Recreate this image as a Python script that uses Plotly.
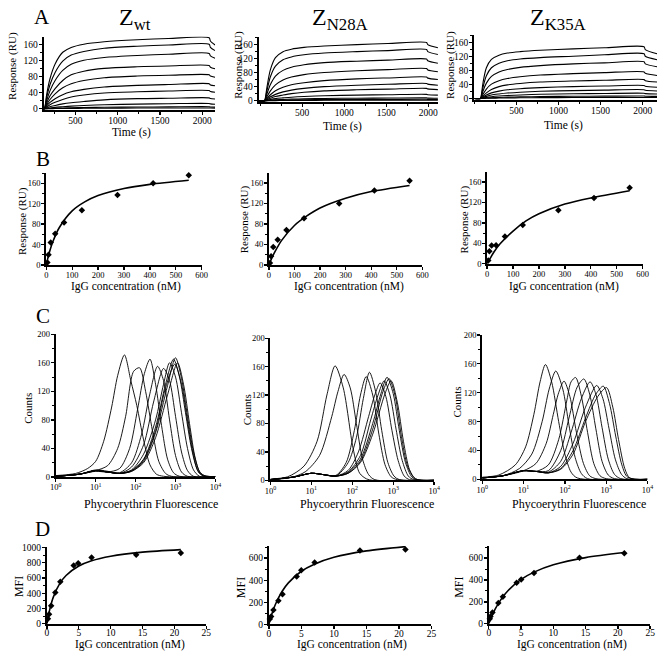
import plotly.graph_objects as go
import numpy as np

W, H = 664, 657
FONT = '"Liberation Serif", "Times New Roman", Times, serif'

# ---------------- DATA ----------------
# Panel A: SPR sensorgrams (time in s, response in RU)
A_wt_time = [124, 130, 140, 160, 200, 260, 350, 450, 600, 840, 1230, 1600, 2080, 2095, 2150]
A_wt_curves = [
    [0, 0, 5, 35, 75, 111, 140, 152, 160, 166, 171, 174, 176, 168, 158],
    [0, 0, 4, 28, 60, 90, 118, 133, 142, 150, 155, 158, 160, 152, 144],
    [0, 0, 3, 20, 45, 70, 95, 110, 120, 127, 132, 135, 137, 131, 125],
    [0, 0, 2, 14, 32, 50, 70, 84, 93, 100, 104, 106, 107, 103, 99],
    [0, 0, 1.5, 10, 23, 37, 52, 62, 70, 77, 81, 83, 84, 81, 78],
    [0, 0, 1, 7, 16, 25, 35, 42, 48, 54, 58, 60, 62, 59, 57],
    [0, 0, 0.7, 4, 10, 16, 23, 29, 34, 39, 42, 44, 45, 43, 41],
    [0, 0, 0.4, 2, 5, 8, 12, 15, 18, 22, 25, 26, 27, 25.5, 24],
    [0, 0, 0.2, 1, 2, 3.5, 5, 6.5, 8, 10, 11.5, 12.5, 13, 12, 11],
    [0, 0, 0, 0.3, 0.7, 1.2, 1.8, 2.4, 3, 3.7, 4.3, 4.7, 5, 4.5, 4],
    [0, 0, 0, 0.1, 0.3, 0.5, 0.7, 0.9, 1.1, 1.4, 1.7, 1.9, 2, 1.8, 1.6],
]
A_n28_time = [-19, 51, 61, 81, 121, 181, 271, 371, 521, 761, 1151, 1521, 1980, 1995, 2115]
A_n28_curves = [
    [0, 0, 8, 40, 88, 122, 139, 146, 151, 155, 159, 162, 165, 159, 150],
    [0, 0, 6, 30, 68, 98, 116, 124, 130, 135, 139, 142, 145, 139, 131],
    [0, 0, 4, 20, 46, 70, 86, 95, 102, 108, 112, 115, 118, 113, 106],
    [0, 0, 2.5, 12, 28, 45, 59, 67, 74, 80, 85, 88, 91, 87, 82],
    [0, 0, 1.5, 7, 17, 28, 38, 45, 51, 57, 62, 64.5, 67, 64, 60],
    [0, 0, 1, 4.5, 11, 18, 25, 30, 35, 40, 44, 46.5, 49, 47, 44],
    [0, 0, 0.6, 3, 7, 12, 16, 20, 24, 28, 31, 33, 35, 33.5, 31.5],
    [0, 0, 0.3, 1.5, 3.5, 6, 8, 10, 12, 14, 16, 17, 18, 17, 16],
    [0, 0, 0.1, 0.6, 1.5, 2.5, 3.5, 4.5, 5.5, 6.5, 7.2, 7.6, 8, 7.5, 7],
    [0, 0, 0, 0.3, 0.7, 1.2, 1.7, 2.2, 2.7, 3.2, 3.6, 3.8, 4, 3.7, 3.4],
    [0, 0, 0, 0.1, 0.2, 0.4, 0.6, 0.8, 1.0, 1.2, 1.35, 1.45, 1.5, 1.4, 1.3],
]
A_k35_time = [-2, 74, 84, 104, 144, 204, 294, 394, 544, 784, 1174, 1544, 2016, 2031, 2170]
A_k35_curves = [
    [0, 0, 10, 45, 88, 112, 124, 130, 134, 138, 142, 145, 148, 140, 128],
    [0, 0, 7, 32, 65, 88, 101, 108, 113, 117, 121, 125, 128, 121, 111],
    [0, 0, 4.5, 21, 44, 63, 76, 83, 89, 94, 99, 102, 105, 99, 91],
    [0, 0, 2.5, 12, 27, 41, 51, 57, 62, 67, 71, 74, 76, 72, 66],
    [0, 0, 1.5, 7, 16, 26, 34, 39, 43, 47, 50, 52, 54, 51, 47],
    [0, 0, 1, 4, 10, 16, 21, 25, 28, 31, 34, 35.5, 37, 35, 32],
    [0, 0, 0.5, 2.5, 6, 10, 13, 15.5, 18, 20.5, 22.5, 24, 25, 23.5, 21.5],
    [0, 0, 0.3, 1.3, 3, 5, 7, 8.5, 10, 12, 13.5, 14.3, 15, 14, 13],
    [0, 0, 0.1, 0.5, 1.2, 2, 3, 3.8, 4.6, 5.5, 6.2, 6.6, 7, 6.5, 6],
    [0, 0, 0, 0.2, 0.5, 0.9, 1.3, 1.6, 2, 2.4, 2.7, 2.85, 3, 2.8, 2.6],
]

# Panel B: equilibrium response vs IgG concentration (nM)
B_conc = [4.3, 8.6, 17.2, 34.4, 68.8, 137.5, 275, 412.5, 550]
B_wt_resp = [5, 20, 44, 61, 83, 107, 137, 160, 176]
B_n28_resp = [4, 17, 35, 49, 68, 91, 120, 145, 164]
B_k35_resp = [6.5, 24.5, 35.5, 36, 53.5, 76, 105, 129, 149]
B_fit_conc = [0, 5, 10, 25, 50, 100, 150, 200, 300, 400, 550]
B_wt_fit = [0, 11, 21, 45, 73, 106, 124, 136, 150, 158, 166]
B_n28_fit = [0, 6, 12, 27, 48, 77, 96, 111, 130, 143, 155]
B_k35_fit = [0, 5, 9, 22, 39, 64, 84, 98, 117, 129, 143]

# Panel C: flow cytometry histograms (log10 fluorescence, counts)
C_wt_x = [
    [0, 0.5, 0.8, 1.0, 1.2, 1.4, 1.55, 1.72, 1.88, 2.03, 2.2, 2.36, 2.52, 2.7, 4.0],
    [0, 0.6, 1.0, 1.3, 1.55, 1.75, 1.95, 2.1, 2.25, 2.42, 2.58, 2.75, 2.9, 4.0],
    [0, 0.6, 1.0, 1.3, 1.6, 1.85, 2.05, 2.22, 2.36, 2.5, 2.65, 2.8, 2.95, 3.1, 4.0],
    [0, 0.6, 1.0, 1.3, 1.6, 1.9, 2.15, 2.35, 2.55, 2.7, 2.85, 3.0, 3.15, 3.3, 4.0],
    [0, 0.6, 1.0, 1.3, 1.6, 1.9, 2.2, 2.45, 2.7, 2.85, 3.0, 3.15, 3.3, 3.45, 4.0],
    [0, 0.6, 1.0, 1.3, 1.6, 1.9, 2.2, 2.5, 2.7, 2.85, 3.0, 3.15, 3.3, 3.45, 3.6, 4.0],
    [0, 0.6, 1.0, 1.3, 1.6, 1.9, 2.2, 2.5, 2.75, 2.95, 3.1, 3.25, 3.4, 3.55, 3.7, 4.0],
    [0, 0.6, 1.0, 1.3, 1.6, 1.9, 2.2, 2.5, 2.8, 3.0, 3.15, 3.3, 3.45, 3.6, 3.75, 4.0],
    [0, 0.6, 1.0, 1.3, 1.6, 1.9, 2.2, 2.5, 2.8, 3.05, 3.2, 3.35, 3.5, 3.65, 4.0],
    [0, 0.6, 1.0, 1.3, 1.6, 1.9, 2.2, 2.5, 2.75, 2.98, 3.15, 3.3, 3.45, 3.6, 4.0],
]
C_wt_y = [
    [2, 5, 12, 22, 50, 98, 142, 171, 135, 100, 52, 17, 4, 1, 0],
    [1, 4, 9, 16, 40, 85, 148, 153, 120, 65, 22, 5, 1, 0],
    [1, 4, 8, 7, 12, 40, 95, 145, 165, 130, 72, 25, 6, 1, 0],
    [1, 4, 9, 7, 6, 20, 60, 115, 155, 135, 80, 30, 7, 1, 0],
    [1, 4, 9, 7, 5, 14, 45, 105, 152, 135, 85, 35, 9, 1, 0],
    [1, 4, 9, 7, 5, 10, 32, 80, 130, 160, 140, 90, 40, 10, 1, 0],
    [1, 4, 9, 7, 5, 9, 25, 70, 130, 165, 140, 90, 40, 10, 1, 0],
    [1, 4, 9, 7, 5, 8, 22, 62, 128, 167, 138, 85, 35, 8, 1, 0],
    [1, 4, 9, 7, 5, 8, 20, 55, 115, 160, 130, 75, 25, 3, 0],
    [1, 4, 10, 8, 5, 9, 24, 65, 125, 158, 130, 78, 30, 5, 0],
]
C_n28_x = [
    [0, 0.42, 0.82, 1.14, 1.38, 1.58, 1.78, 2.02, 2.18, 2.35, 2.5, 4.0],
    [0, 0.5, 0.85, 1.2, 1.5, 1.65, 1.8, 1.95, 2.1, 2.25, 2.4, 2.55, 4.0],
    [0, 0.6, 1.0, 1.3, 1.6, 1.85, 2.05, 2.2, 2.34, 2.5, 2.65, 2.8, 2.95, 3.1, 4.0],
    [0, 0.6, 1.0, 1.3, 1.6, 1.9, 2.1, 2.27, 2.42, 2.57, 2.72, 2.87, 3.02, 3.15, 4.0],
    [0, 0.6, 1.0, 1.3, 1.6, 1.9, 2.15, 2.4, 2.55, 2.68, 2.82, 2.97, 3.12, 3.27, 3.4, 4.0],
    [0, 0.6, 1.0, 1.3, 1.6, 1.9, 2.2, 2.45, 2.63, 2.78, 2.92, 3.07, 3.22, 3.37, 3.5, 4.0],
    [0, 0.6, 1.0, 1.3, 1.6, 1.9, 2.2, 2.5, 2.7, 2.85, 3.0, 3.15, 3.3, 3.45, 3.55, 4.0],
    [0, 0.6, 1.0, 1.3, 1.6, 1.9, 2.2, 2.5, 2.75, 2.9, 3.05, 3.2, 3.35, 3.5, 3.6, 4.0],
    [0, 0.6, 1.0, 1.3, 1.6, 1.9, 2.2, 2.5, 2.8, 2.95, 3.1, 3.25, 3.4, 3.55, 4.0],
]
C_n28_y = [
    [2, 5, 20, 55, 120, 161, 130, 45, 10, 2, 0, 0],
    [1, 4, 12, 35, 90, 125, 149, 130, 80, 30, 8, 1, 0],
    [1, 5, 10, 8, 7, 25, 70, 120, 146, 120, 65, 22, 5, 1, 0],
    [1, 5, 10, 8, 6, 25, 60, 115, 152, 125, 70, 25, 6, 1, 0],
    [1, 5, 10, 8, 6, 14, 40, 90, 120, 137, 118, 70, 28, 6, 1, 0],
    [1, 5, 10, 8, 6, 12, 35, 85, 120, 140, 120, 72, 28, 6, 1, 0],
    [1, 5, 10, 8, 6, 11, 30, 80, 122, 145, 122, 70, 25, 5, 1, 0],
    [1, 5, 10, 8, 6, 10, 27, 72, 125, 143, 118, 62, 20, 4, 1, 0],
    [1, 5, 10, 8, 6, 10, 25, 65, 122, 140, 110, 55, 15, 2, 0],
]
C_k35_x = [
    [0, 0.4, 0.8, 1.05, 1.25, 1.4, 1.53, 1.68, 1.85, 2.0, 2.15, 2.3, 4.0],
    [0, 0.5, 0.9, 1.2, 1.45, 1.62, 1.78, 1.95, 2.1, 2.25, 2.4, 2.55, 4.0],
    [0, 0.5, 1.0, 1.3, 1.55, 1.72, 1.85, 1.98, 2.12, 2.28, 2.45, 2.6, 2.75, 4.0],
    [0, 0.5, 1.0, 1.3, 1.6, 1.85, 2.05, 2.15, 2.26, 2.4, 2.55, 2.7, 2.85, 3.0, 4.0],
    [0, 0.5, 1.0, 1.3, 1.6, 1.9, 2.1, 2.3, 2.46, 2.6, 2.75, 2.9, 3.05, 3.2, 4.0],
    [0, 0.5, 1.0, 1.3, 1.6, 1.9, 2.15, 2.4, 2.61, 2.75, 2.9, 3.05, 3.2, 3.35, 4.0],
    [0, 0.5, 1.0, 1.3, 1.6, 1.9, 2.2, 2.5, 2.77, 2.92, 3.07, 3.22, 3.37, 3.5, 4.0],
    [0, 0.5, 1.0, 1.3, 1.6, 1.9, 2.2, 2.5, 2.75, 2.93, 3.08, 3.23, 3.38, 3.52, 4.0],
    [0, 0.5, 1.0, 1.3, 1.6, 1.9, 2.2, 2.5, 2.8, 3.01, 3.16, 3.3, 3.45, 3.57, 4.0],
]
C_k35_y = [
    [3, 6, 20, 45, 90, 135, 159, 135, 80, 35, 10, 2, 0],
    [2, 5, 15, 35, 80, 125, 150, 125, 75, 30, 8, 1, 0],
    [2, 5, 12, 22, 50, 90, 120, 136, 115, 65, 22, 5, 1, 0],
    [2, 5, 12, 11, 20, 55, 110, 135, 141, 115, 65, 22, 5, 1, 0],
    [2, 5, 12, 11, 12, 40, 85, 128, 139, 118, 70, 25, 6, 1, 0],
    [2, 5, 12, 11, 10, 25, 65, 112, 135, 118, 72, 28, 7, 1, 0],
    [2, 5, 12, 11, 9, 18, 50, 100, 130, 112, 70, 28, 7, 1, 0],
    [2, 5, 12, 11, 9, 15, 40, 85, 118, 129, 105, 60, 20, 3, 0],
    [2, 5, 12, 11, 9, 14, 35, 80, 115, 127, 100, 55, 15, 2, 0],
]

# Panel D: MFI vs IgG concentration (nM)
D_wt_conc = [0.16, 0.33, 0.66, 1.31, 2.1, 4.2, 4.9, 7.0, 14.0, 21.0]
D_wt_mfi = [65, 125, 235, 410, 550, 765, 795, 870, 905, 930]
D_n28_conc = [0.15, 0.35, 0.7, 1.46, 2.1, 4.28, 4.98, 7.04, 14.0, 21.0]
D_n28_mfi = [50, 71, 131, 214, 273, 434, 490, 561, 668, 677]
D_k35_conc = [0.15, 0.25, 0.56, 1.47, 2.18, 4.31, 5.02, 7.0, 14.05, 21.0]
D_k35_mfi = [45, 66, 102, 189, 246, 375, 405, 465, 603, 645]
D_fit_conc = [0, 0.25, 0.5, 1, 2, 3, 5, 7, 10, 15, 21]
D_wt_fit = [0, 115, 209, 350, 527, 634, 758, 827, 887, 941, 974]
D_n28_fit = [0, 54, 101, 180, 296, 376, 481, 545, 607, 665, 704]
D_k35_fit = [0, 39, 74, 136, 232, 304, 405, 472, 539, 605, 651]

# Tick labels
A_yticks = [0, 40, 80, 120, 160]
A_xticks = [500, 1000, 1500, 2000]
B_yticks = [0, 40, 80, 120, 160]
B_xticks = [0, 100, 200, 300, 400, 500, 600]
C_yticks = [0, 40, 80, 120, 160, 200]
C_xticks = [1, 10, 100, 1000, 10000]
C_xticktext = ["10<sup>0</sup>", "10<sup>1</sup>", "10<sup>2</sup>", "10<sup>3</sup>", "10<sup>4</sup>"]
D_wt_yticks = [0, 200, 400, 600, 800, 1000]
D_yticks = [0, 200, 400, 600]
D_xticks = [0, 5, 10, 15, 20, 25]

# ---------------- FIGURE ----------------
fig = go.Figure()


def xdom(a, b):
    return [a / W, b / W]


def ydom(top, bottom):
    return [1 - bottom / H, 1 - top / H]


def axis(dom, rng, tickvals, size, anchor, typ="linear", ticktext=None, minor_dtick=None, standoff=0):
    d = dict(domain=dom, range=rng, type=typ, anchor=anchor,
             showline=True, linecolor="black", linewidth=2,
             ticks="outside", ticklen=3, tickwidth=1.3, tickcolor="black",
             showgrid=False, zeroline=False, fixedrange=True,
             tickfont=dict(family=FONT, size=size, color="black"),
             tickmode="array", tickvals=tickvals, ticklabelstandoff=standoff)
    if ticktext is not None:
        d["ticktext"] = ticktext
    if minor_dtick is not None:
        d["minor"] = dict(ticks="outside", ticklen=2, tickwidth=1, tickcolor="black",
                          dtick=minor_dtick, tick0=0, showgrid=False)
    return d


# axis specs: (x px range, y px (top,bottom), xrange, yrange, xticks, yticks, xtype, xticktext, fsize, xminor, yminor, xstandoff)
specs = [
    ((38.3, 213), (32, 107), [124, 2151], [-4, 179], A_xticks, A_yticks, "linear", None, 9.5, 250, 20, -3),
    ((257.3, 440), (32.3, 99), [-19, 2117], [-5, 181], A_xticks, A_yticks, "linear", None, 9.5, 250, 20, -3),
    ((476.7, 663), (30.7, 96.7), [-2, 2170], [-5, 181], A_xticks, A_yticks, "linear", None, 9.5, 250, 20, -3),
    ((41, 199.3), (170.7, 264), [0, 600], [0, 180], B_xticks, B_yticks, "linear", None, 8.5, None, 20, -2),
    ((267.7, 424), (170.7, 264), [0, 600], [0, 179], B_xticks, B_yticks, "linear", None, 8.5, None, 20, -2),
    ((490, 648.3), (170, 262.7), [0, 600], [0, 179], B_xticks, B_yticks, "linear", None, 8.5, None, 20, -2),
    ((50.7, 213.3), (334.3, 479.3), [0, 4], [0, 200], C_xticks, C_yticks, "log", C_xticktext, 8.5, None, 20, -2),
    ((269.3, 436), (338.3, 482.7), [0, 4], [0, 200], C_xticks, C_yticks, "log", C_xticktext, 8.5, None, 20, -2),
    ((485, 653.3), (335, 481.7), [0, 4], [0, 200], C_xticks, C_yticks, "log", C_xticktext, 8.5, None, 20, -2),
    ((41.7, 204), (550, 628.3), [0, 25], [0, 1013], D_xticks, D_wt_yticks, "linear", None, 9.5, None, 100, -4),
    ((267.7, 433.3), (549.3, 629), [0, 25], [0, 710], D_xticks, D_yticks, "linear", None, 9.5, None, 100, -4),
    ((491.7, 656), (549.7, 628.3), [0, 25], [0, 708], D_xticks, D_yticks, "linear", None, 9.5, None, 100, -4),
]

layout_axes = {}
for i, s in enumerate(specs, start=1):
    (xa, xb), (yt, yb), xr, yr, xt, yt_, xtype, xtt, fs, xminor, yminor, xso = s
    suf = "" if i == 1 else str(i)
    layout_axes["xaxis" + suf] = axis(xdom(xa, xb), xr, xt, fs, "y" + suf, xtype, xtt, xminor, standoff=xso)
    layout_axes["yaxis" + suf] = axis(ydom(yt, yb), yr, yt_, fs, "x" + suf, "linear", None, yminor, standoff=-1)


def ref(i):
    return ("x" if i == 1 else "x%d" % i), ("y" if i == 1 else "y%d" % i)


def line(i, x, y, width=1.0, smoothing=0.8):
    xr, yr = ref(i)
    fig.add_trace(go.Scatter(x=x, y=y, mode="lines", xaxis=xr, yaxis=yr,
                             line=dict(color="black", width=width, shape="spline", smoothing=smoothing),
                             showlegend=False, hoverinfo="skip"))


def points(i, x, y):
    xr, yr = ref(i)
    fig.add_trace(go.Scatter(x=x, y=y, mode="markers", xaxis=xr, yaxis=yr, cliponaxis=False,
                             marker=dict(symbol="diamond", size=5, color="black"),
                             showlegend=False, hoverinfo="skip"))


# A
for c in A_wt_curves:
    line(1, A_wt_time, c, 1.1)
for c in A_n28_curves:
    line(2, A_n28_time, c, 1.1)
for c in A_k35_curves:
    line(3, A_k35_time, c, 1.1)

# B
line(4, B_fit_conc, B_wt_fit, 1.6)
points(4, B_conc, B_wt_resp)
line(5, B_fit_conc, B_n28_fit, 1.6)
points(5, B_conc, B_n28_resp)
line(6, B_fit_conc, B_k35_fit, 1.6)
points(6, B_conc, B_k35_resp)

# C
for xs, ys in zip(C_wt_x, C_wt_y):
    line(7, list(10 ** np.array(xs)), ys, 0.9)
for xs, ys in zip(C_n28_x, C_n28_y):
    line(8, list(10 ** np.array(xs)), ys, 0.9)
for xs, ys in zip(C_k35_x, C_k35_y):
    line(9, list(10 ** np.array(xs)), ys, 0.9)

# D
line(10, D_fit_conc, D_wt_fit, 1.6)
points(10, D_wt_conc, D_wt_mfi)
line(11, D_fit_conc, D_n28_fit, 1.6)
points(11, D_n28_conc, D_n28_mfi)
line(12, D_fit_conc, D_k35_fit, 1.6)
points(12, D_k35_conc, D_k35_mfi)

# annotations (text, x px, y px, size, angle)
ann = [
    ("A", 37, 12.5, 21, 0), ("B", 38, 156.7, 21, 0), ("C", 37.5, 316, 21, 0), ("D", 37, 532.5, 21, 0),
    ("Z<sub>wt</sub>", 131.7, 14, 24, 0), ("Z<sub>N28A</sub>", 340, 14, 24, 0), ("Z<sub>K35A</sub>", 562, 14, 24, 0),
    ("Response (RU)", 6, 62, 11, -90), ("Response (RU)", 236, 61, 11, -90), ("Response (RU)", 452, 61, 11, -90),
    ("Time (s)", 127.5, 129, 11.5, 0), ("Time (s)", 342.5, 123.5, 11.5, 0), ("Time (s)", 567.5, 122, 11.5, 0),
    ("Response (RU)", 16.7, 219, 11, -90), ("Response (RU)", 243, 218, 11, -90), ("Response (RU)", 466.7, 217.5, 11, -90),
    ("IgG concentration (nM)", 122.5, 286, 11.5, 0), ("IgG concentration (nM)", 349, 286, 11.5, 0),
    ("IgG concentration (nM)", 568.3, 285.5, 11.5, 0),
    ("Counts", 22.5, 410, 11, -90), ("Counts", 245, 411, 11, -90), ("Counts", 459, 403, 11, -90),
    ("Phycoerythrin Fluorescence", 148, 506.7, 12, 0), ("Phycoerythrin Fluorescence", 368, 506.7, 12, 0),
    ("Phycoerythrin Fluorescence", 584, 506.7, 12, 0),
    ("MFI", 13.3, 591, 12, -90), ("MFI", 239.5, 592, 12, -90), ("MFI", 461.7, 591.5, 12, -90),
    ("IgG concentration (nM)", 126.7, 649.5, 11.5, 0), ("IgG concentration (nM)", 352, 649.5, 11.5, 0),
    ("IgG concentration (nM)", 576, 649.5, 11.5, 0),
]
annotations = []
for text, x, y, size, ang in ann:
    annotations.append(dict(text=text, x=x / W, y=1 - y / H, xref="paper", yref="paper",
                            xanchor="center", yanchor="middle", showarrow=False, textangle=ang,
                            font=dict(family=FONT, size=size, color="black")))

fig.update_layout(width=W, height=H, margin=dict(l=0, r=0, t=0, b=0),
                  paper_bgcolor="white", plot_bgcolor="white", showlegend=False,
                  annotations=annotations, **layout_axes)

fig.write_html("out.html", config={"displayModeBar": False, "staticPlot": True},
               post_script="document.body.style.margin='0';document.body.style.overflow='hidden';"
                           "document.documentElement.style.overflow='hidden';")
